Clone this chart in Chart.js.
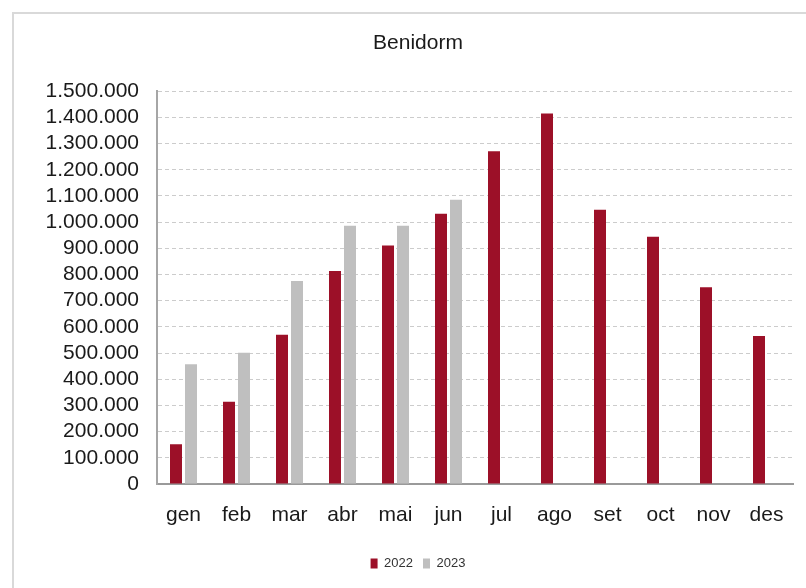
<!DOCTYPE html>
<html>
<head>
<meta charset="utf-8">
<title>Benidorm</title>
<script src="https://cdn.jsdelivr.net/npm/chart.js@4"></script>
<style>
    body { margin: 0; background: #ffffff; }
    .wrap { position: relative; width: 806px; height: 588px; overflow: hidden; }
    .frame {
        position: absolute; left: 12px; top: 12px; width: 820px; height: 600px;
        border-left: 2px solid #d9d9d9; border-top: 2px solid #d9d9d9;
    }
    canvas { position: absolute; left: 0; top: 0; }
</style>
</head>
<body>
<div class="wrap">
    <div class="frame"></div>
    <canvas id="benidormChart" width="806" height="588"></canvas>
</div>
<script>
// Data
const months = ['gen', 'feb', 'mar', 'abr', 'mai', 'jun', 'jul', 'ago', 'set', 'oct', 'nov', 'des'];
const values2022 = [152000, 314000, 570000, 813000, 911000, 1032000, 1271000, 1415000, 1047000, 944000, 751000, 565000];
const values2023 = [457000, 501000, 775000, 986000, 986000, 1085000, null, null, null, null, null, null];
const yTicks = [0, 100000, 200000, 300000, 400000, 500000, 600000, 700000, 800000, 900000, 1000000, 1100000, 1200000, 1300000, 1400000, 1500000];

const fontFamily = '"Liberation Sans", Arial, sans-serif';

function formatThousands(v) {
    return String(v).replace(/\B(?=(\d{3})+(?!\d))/g, '.');
}

new Chart(document.getElementById('benidormChart'), {
    type: 'bar',
    data: {
        labels: months,
        datasets: [
            {
                label: '2022',
                data: values2022,
                backgroundColor: '#9c1028',
                categoryPercentage: 0.566,
                barPercentage: 0.8
            },
            {
                label: '2023',
                data: values2023,
                backgroundColor: '#bfbfbf',
                categoryPercentage: 0.566,
                barPercentage: 0.8
            }
        ]
    },
    options: {
        responsive: false,
        animation: false,
        layout: {
            padding: { left: 43, right: 13, top: 0, bottom: 8 }
        },
        plugins: {
            title: {
                display: true,
                text: 'Benidorm',
                color: '#1a1a1a',
                font: { family: fontFamily, size: 21, weight: 'normal', lineHeight: 1.2 },
                padding: { top: 31, bottom: 35 }
            },
            legend: {
                position: 'bottom',
                labels: {
                    color: '#333333',
                    font: { family: fontFamily, size: 13 },
                    boxWidth: 7,
                    boxHeight: 10,
                    padding: 10
                }
            },
            tooltip: { enabled: false }
        },
        scales: {
            x: {
                grid: { display: false, drawTicks: false },
                border: { display: true, color: '#9a9a9a', width: 2 },
                ticks: {
                    color: '#1a1a1a',
                    font: { family: fontFamily, size: 21 },
                    padding: 19,
                    maxRotation: 0,
                    autoSkip: false
                },
                afterFit: (scale) => { scale.height = 63; }
            },
            y: {
                min: 0,
                max: 1500000,
                afterBuildTicks: (scale) => {
                    scale.ticks = yTicks.map(v => ({ value: v }));
                },
                grid: {
                    color: '#cccccc',
                    drawTicks: false,
                    lineWidth: 1
                },
                // in v4 the dash here is used for the grid lines
                border: { display: true, color: '#a6a6a6', width: 2, dash: [4, 3] },
                ticks: {
                    color: '#1a1a1a',
                    font: { family: fontFamily, size: 21 },
                    padding: 18,
                    autoSkip: false,
                    callback: (v) => formatThousands(v)
                },
                afterFit: (scale) => { scale.width = 114; }
            }
        }
    }
});
</script>
</body>
</html>
